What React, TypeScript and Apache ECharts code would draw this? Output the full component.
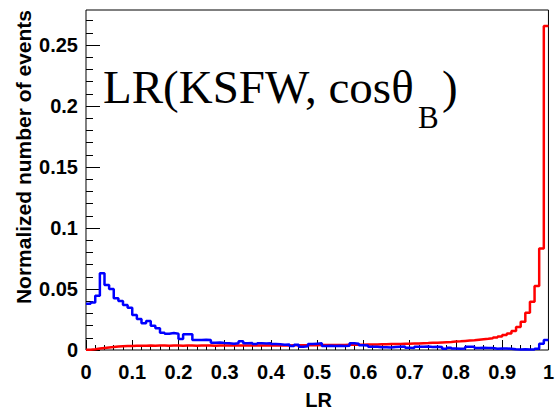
import React, { useEffect, useRef } from "react";
import * as echarts from "echarts";

// Histogram binning: 100 bins of width 0.01 on [0, 1]
const binLow = 0;
const binWidth = 0.01;

// Signal (red) normalized bin contents
const redValues = [
  0.0003, 0.0007, 0.0012, 0.0017, 0.0021, 0.0025, 0.0028, 0.003, 0.0032, 0.0033,
  0.0034, 0.0035, 0.0035, 0.0036, 0.0035, 0.0036, 0.0036, 0.0035, 0.0036, 0.0036,
  0.0035, 0.0036, 0.0036, 0.0035, 0.0036, 0.0036, 0.0036, 0.0035, 0.0036, 0.0036,
  0.0036, 0.0037, 0.0036, 0.0036, 0.0037, 0.0036, 0.0037, 0.0037, 0.0036, 0.0037,
  0.0037, 0.0037, 0.0038, 0.0037, 0.0038, 0.0038, 0.0038, 0.0039, 0.0039, 0.0039,
  0.004, 0.004, 0.0041, 0.0041, 0.0042, 0.0042, 0.0043, 0.0043, 0.0044, 0.0044,
  0.0045, 0.0046, 0.0046, 0.0047, 0.0048, 0.0049, 0.0049, 0.005, 0.0051, 0.0052,
  0.0053, 0.0054, 0.0056, 0.0057, 0.0059, 0.006, 0.0062, 0.0064, 0.0066, 0.0069,
  0.0071, 0.0074, 0.0077, 0.008, 0.0084, 0.0088, 0.0092, 0.0097, 0.0103, 0.0111,
  0.0122, 0.0136, 0.0155, 0.0189, 0.0232, 0.0306, 0.0396, 0.0525, 0.0833, 0.2656,
];

// Background (blue) normalized bin contents
const blueValues = [
  0.038, 0.039, 0.0445, 0.063, 0.0533, 0.05, 0.0424, 0.0402, 0.0369, 0.0347,
  0.0287, 0.0254, 0.0219, 0.0238, 0.0199, 0.0178, 0.0142, 0.0134, 0.0139, 0.0134,
  0.009, 0.013, 0.013, 0.0082, 0.0082, 0.0085, 0.0082, 0.006, 0.0062, 0.0058,
  0.0055, 0.0052, 0.0056, 0.0071, 0.0055, 0.0057, 0.0049, 0.0055, 0.0053, 0.0056,
  0.0049, 0.0048, 0.0044, 0.0045, 0.0033, 0.0044, 0.0027, 0.003, 0.0049, 0.0052,
  0.0055, 0.0033, 0.0034, 0.0032, 0.0035, 0.0033, 0.0034, 0.0055, 0.0052, 0.0038,
  0.0036, 0.0027, 0.0026, 0.0022, 0.0023, 0.0021, 0.0024, 0.0027, 0.0028, 0.0018,
  0.0016, 0.0027, 0.0026, 0.0028, 0.0025, 0.0027, 0.0025, 0.0011, 0.0018, 0.0012,
  0.0011, 0.0012, 0.0027, 0.0026, 0.0017, 0.0018, 0.0017, 0.0016, 0.0011, 0.0013,
  0.0012, 0.001, 0.0006, 0.0005, 0.0006, 0.0005, 0.0005, 0.0011, 0.0052, 0.0082,
];

const yMajorTicks = [0, 0.05, 0.1, 0.15, 0.2, 0.25];
const yMinorTicks = [
  0.01, 0.02, 0.03, 0.04, 0.06, 0.07, 0.08, 0.09, 0.11, 0.12, 0.13, 0.14,
  0.16, 0.17, 0.18, 0.19, 0.21, 0.22, 0.23, 0.24, 0.26, 0.27,
];

const xTitle = "LR";
const yTitle = "Normalized number of events";
const annotationMain = "LR(KSFW, cosθ";
const annotationSub = "B";
const annotationEnd = ")";

function histSteps(values: number[]) {
  const pts: [number, number][] = values.map((v, i) => [binLow + i * binWidth, v]);
  pts.push([binLow + values.length * binWidth, values[values.length - 1]]);
  return pts;
}

const SANS = "'Liberation Sans', Arial, Helvetica, sans-serif";
const SERIF = "'Liberation Serif', 'Times New Roman', serif";

export default function App() {
  const ref = useRef<HTMLDivElement>(null);
  useEffect(() => {
    if (!ref.current) return;
    const chart = echarts.init(ref.current, undefined, { renderer: "svg" });
    const yMax = 0.2787;
    chart.setOption({
      animation: false,
      backgroundColor: "#ffffff",
      grid: {
        left: 86,
        right: 6,
        top: 10,
        bottom: 61,
        show: true,
        borderColor: "#000",
        borderWidth: 1,
        backgroundColor: "transparent",
      },
      xAxis: {
        type: "value",
        min: 0,
        max: 1,
        interval: 0.1,
        axisLine: { show: false },
        axisTick: { show: true, inside: true, length: 10, lineStyle: { color: "#000", width: 1 } },
        minorTick: { show: true, splitNumber: 5, length: 5, lineStyle: { color: "#000", width: 1 } },
        splitLine: { show: false },
        minorSplitLine: { show: false },
        axisLabel: {
          color: "#000",
          fontFamily: SANS,
          fontWeight: "bold",
          fontSize: 20,
          margin: 12,
        },
      },
      yAxis: [
        {
          type: "value",
          min: 0,
          max: yMax,
          position: "left",
          axisLine: { show: false },
          axisTick: {
            show: true,
            inside: true,
            length: 14,
            customValues: yMajorTicks,
            lineStyle: { color: "#000", width: 1 },
          },
          splitLine: { show: false },
          axisLabel: {
            customValues: yMajorTicks,
            color: "#000",
            fontFamily: SANS,
            fontWeight: "bold",
            fontSize: 20,
            margin: 8,
          },
        },
        {
          type: "value",
          min: 0,
          max: yMax,
          position: "left",
          axisLine: { show: false },
          axisTick: {
            show: true,
            inside: true,
            length: 7,
            customValues: yMinorTicks,
            lineStyle: { color: "#000", width: 1 },
          },
          splitLine: { show: false },
          axisLabel: { show: false },
        },
      ],
      series: [
        {
          type: "line",
          step: "end",
          data: histSteps(redValues),
          yAxisIndex: 0,
          showSymbol: false,
          symbol: "none",
          lineStyle: { color: "#ff0000", width: 2.5 },
          z: 3,
        },
        {
          type: "line",
          step: "end",
          data: histSteps(blueValues),
          yAxisIndex: 0,
          showSymbol: false,
          symbol: "none",
          lineStyle: { color: "#0000ff", width: 2.5 },
          z: 4,
        },
      ],
      graphic: [
        {
          type: "text",
          x: 318.5,
          y: 400,
          style: {
            text: xTitle,
            fill: "#000",
            font: `bold 20px ${SANS}`,
            textAlign: "center",
            textVerticalAlign: "middle",
          },
        },
        {
          type: "text",
          x: 23,
          y: 10,
          rotation: Math.PI / 2,
          style: {
            text: yTitle,
            fill: "#000",
            font: `bold 21px ${SANS}`,
            textAlign: "right",
            textVerticalAlign: "middle",
          },
        },
        {
          type: "text",
          x: 103,
          y: 87,
          style: {
            text: annotationMain,
            fill: "#000",
            font: `47px ${SERIF}`,
            textAlign: "left",
            textVerticalAlign: "middle",
          },
        },
        {
          type: "text",
          x: 418,
          y: 117,
          style: {
            text: annotationSub,
            fill: "#000",
            font: `31px ${SERIF}`,
            textAlign: "left",
            textVerticalAlign: "middle",
          },
        },
        {
          type: "text",
          x: 442,
          y: 87,
          style: {
            text: annotationEnd,
            fill: "#000",
            font: `47px ${SERIF}`,
            textAlign: "left",
            textVerticalAlign: "middle",
          },
        },
      ],
    });
    return () => chart.dispose();
  }, []);
  return (
    <div
      ref={ref}
      style={{ position: "absolute", left: 0, top: 0, width: 557, height: 411, background: "#fff" }}
    />
  );
}
